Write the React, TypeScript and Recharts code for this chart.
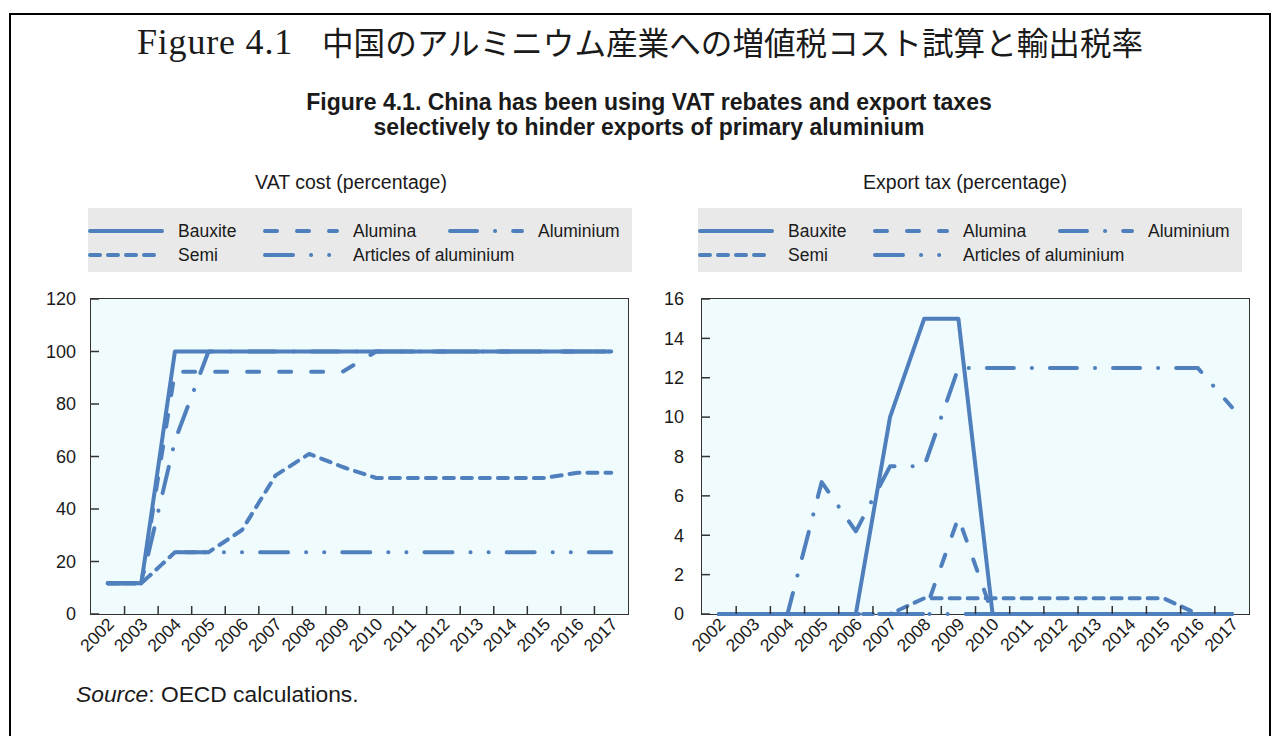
import React from "react";
import { Line, LineChart, XAxis, YAxis } from "recharts";

const years = [2002, 2003, 2004, 2005, 2006, 2007, 2008, 2009, 2010, 2011, 2012, 2013, 2014, 2015, 2016, 2017];
// tick marks sit on the boundaries between years
const yearBreaks = [2002.5, 2003.5, 2004.5, 2005.5, 2006.5, 2007.5, 2008.5, 2009.5, 2010.5, 2011.5, 2012.5, 2013.5, 2014.5, 2015.5, 2016.5];
const xTicks = [...years, ...yearBreaks].sort((a, b) => a - b);

const vatTicks = [0, 20, 40, 60, 80, 100, 120];
const exportTicks = [0, 2, 4, 6, 8, 10, 12, 14, 16];

// VAT cost (percentage)
const vatBauxite = [11.7, 11.7, 100, 100, 100, 100, 100, 100, 100, 100, 100, 100, 100, 100, 100, 100];
const vatAlumina = [11.7, 11.7, 92.3, 92.3, 92.3, 92.3, 92.3, 92.3, 100, 100, 100, 100, 100, 100, 100, 100];
const vatAluminium = [11.7, 11.7, 66, 100, 100, 100, 100, 100, 100, 100, 100, 100, 100, 100, 100, 100];
const vatSemi = [11.7, 11.7, 23.5, 23.5, 32, 52.8, 61, 56, 51.8, 51.8, 51.8, 51.8, 51.8, 51.8, 53.8, 53.8];
const vatArticles = [11.7, 11.7, 23.5, 23.5, 23.5, 23.5, 23.5, 23.5, 23.5, 23.5, 23.5, 23.5, 23.5, 23.5, 23.5, 23.5];

// Export tax (percentage)
const taxBauxite = [0, 0, 0, 0, 0, 10, 15, 15, 0, 0, 0, 0, 0, 0, 0, 0];
const taxAlumina = [0, 0, 0, 0, 0, 0, 0, 4.9, 0, 0, 0, 0, 0, 0, 0, 0];
const taxAluminium = [0, 0, 0, 6.7, 4.2, 7.5, 7.5, 12.5, 12.5, 12.5, 12.5, 12.5, 12.5, 12.5, 12.5, 10.5];
const taxSemi = [0, 0, 0, 0, 0, 0, 0.8, 0.8, 0.8, 0.8, 0.8, 0.8, 0.8, 0.8, 0, 0];
const taxArticles = [0, 0, 0, 0, 0, 0, 0, 0, 0, 0, 0, 0, 0, 0, 0, 0];

const BLUE = "#4f80bd";
const INK = "#1a1a1a";
const FRAME = "#333";
const SANS = "'Liberation Sans', Arial, sans-serif";
const TICK_LEN = 8;

const series = [
  { key: "bauxite", name: "Bauxite", dash: undefined },
  { key: "alumina", name: "Alumina", dash: "12 20" },
  { key: "aluminium", name: "Aluminium", dash: "27 18 0.1 18" },
  { key: "semi", name: "Semi", dash: "10 8" },
  { key: "articles", name: "Articles of aluminium", dash: "28 18 0.1 18 0.1 18" },
];

function buildRows(bauxite: number[], alumina: number[], aluminium: number[], semi: number[], articles: number[]) {
  return years.map((year, i) => ({
    year,
    bauxite: bauxite[i],
    alumina: alumina[i],
    aluminium: aluminium[i],
    semi: semi[i],
    articles: articles[i],
  }));
}

const vatRows = buildRows(vatBauxite, vatAlumina, vatAluminium, vatSemi, vatArticles);
const taxRows = buildRows(taxBauxite, taxAlumina, taxAluminium, taxSemi, taxArticles);

// whole years get a slanted label, half years an inward tick mark
function YearTick(props: any) {
  const { x, y, payload } = props;
  if (!Number.isInteger(payload.value)) {
    return <line x1={x} x2={x} y1={y} y2={y - TICK_LEN} stroke={FRAME} strokeWidth={1.5} />;
  }
  const ax = x + 3;
  const ay = y + 7;
  return (
    <text
      x={ax}
      y={ay}
      dy="0.35em"
      textAnchor="end"
      fontSize={17.5}
      fill={INK}
      transform={`rotate(-45 ${ax} ${ay})`}
    >
      {payload.value}
    </text>
  );
}

function ValueTick(props: any) {
  const { x, y, payload, gap } = props;
  return (
    <g>
      <line x1={x} x2={x + TICK_LEN} y1={y} y2={y} stroke={FRAME} strokeWidth={1.5} />
      <text x={x - gap} y={y} dy="0.35em" textAnchor="end" fontSize={18} fill={INK}>
        {payload.value}
      </text>
    </g>
  );
}

function Legend({ left, top }: { left: number; top: number }) {
  // sample x offset, row
  const slots = [
    { x: 0, row: 0 },
    { x: 175, row: 0 },
    { x: 360, row: 0 },
    { x: 0, row: 1 },
    { x: 175, row: 1 },
  ];
  return (
    <svg
      width={544}
      height={64}
      style={{ position: "absolute", left, top, fontFamily: SANS }}
    >
      <rect x={0} y={0} width={544} height={64} fill="#e9e9e9" />
      {series.map((s, i) => {
        const slot = slots[i];
        const cy = slot.row === 0 ? 23 : 47;
        return (
          <g key={s.key}>
            <line
              x1={slot.x + 2}
              x2={slot.x + 74}
              y1={cy}
              y2={cy}
              stroke={BLUE}
              strokeWidth={4}
              strokeDasharray={s.dash}
              strokeLinecap="round"
            />
            <text x={slot.x + 90} y={cy} dy="0.35em" fontSize={17.5} fill={INK}>
              {s.name}
            </text>
          </g>
        );
      })}
    </svg>
  );
}

type PanelProps = {
  rows: any[];
  yTicks: number[];
  left: number;
  width: number;
  yAxisWidth: number;
  labelGap: number;
  marginRight: number;
};

const CHART_TOP = 289;
const CHART_HEIGHT = 380;
const MARGIN_TOP = 10;
const AXIS_HEIGHT = 55;

function Panel({ rows, yTicks, left, width, yAxisWidth, labelGap, marginRight }: PanelProps) {
  const xDomain = [2001.5, 2017.5];
  const yDomain = [yTicks[0], yTicks[yTicks.length - 1]];
  const plotLeft = left + yAxisWidth;
  const plotRight = left + width - marginRight;
  const plotTop = CHART_TOP + MARGIN_TOP;
  const plotBottom = CHART_TOP + CHART_HEIGHT - AXIS_HEIGHT;
  return (
    <>
      {/* plot panel: pale fill with a dark frame, sits under the chart svg */}
      <div
        style={{
          position: "absolute",
          left: plotLeft - 1,
          top: plotTop - 1,
          width: plotRight - plotLeft + 2,
          height: plotBottom - plotTop + 2,
          background: "#effbfd",
          border: `1.5px solid ${FRAME}`,
          boxSizing: "border-box",
        }}
      />
      <div style={{ position: "absolute", left, top: CHART_TOP, fontFamily: SANS }}>
        <LineChart
          width={width}
          height={CHART_HEIGHT}
          data={rows}
          margin={{ top: MARGIN_TOP, right: marginRight, left: 0, bottom: 0 }}
        >
          <XAxis
            xAxisId="years"
            dataKey="year"
            type="number"
            domain={xDomain}
            ticks={xTicks}
            interval={0}
            height={AXIS_HEIGHT}
            axisLine={false}
            tickLine={false}
            tickSize={0}
            tickMargin={0}
            tick={<YearTick />}
          />
          <YAxis
            type="number"
            domain={yDomain}
            ticks={yTicks}
            interval={0}
            width={yAxisWidth}
            axisLine={false}
            tickLine={false}
            tickSize={0}
            tickMargin={0}
            tick={<ValueTick gap={labelGap - TICK_LEN} />}
          />
          {[...series].reverse().map((s) => (
            <Line
              key={s.key}
              xAxisId="years"
              dataKey={s.key}
              name={s.name}
              type="linear"
              stroke={BLUE}
              strokeWidth={4}
              strokeDasharray={s.dash}
              strokeLinecap="round"
              strokeLinejoin="round"
              dot={false}
              activeDot={false}
              isAnimationActive={false}
            />
          ))}
        </LineChart>
      </div>
    </>
  );
}

export default function App() {
  return (
    <div
      style={{
        position: "absolute",
        left: 0,
        top: 0,
        width: 1281,
        height: 736,
        background: "#fff",
        overflow: "hidden",
        fontFamily: SANS,
        color: INK,
      }}
    >
      <div
        style={{
          position: "absolute",
          left: 9,
          top: 13,
          width: 1262,
          height: 760,
          border: "2px solid #000",
          boxSizing: "border-box",
        }}
      />
      <div
        style={{
          position: "absolute",
          left: 137,
          top: 20,
          fontFamily: "'Liberation Serif', 'DejaVu Serif', serif",
          fontSize: 36,
          letterSpacing: 0.8,
          lineHeight: "44px",
          whiteSpace: "nowrap",
        }}
      >
        Figure 4.1
      </div>
      <div
        style={{
          position: "absolute",
          left: 322,
          top: 19,
          fontFamily: "'Noto Sans CJK JP', sans-serif",
          fontSize: 31.6,
          lineHeight: "44px",
          whiteSpace: "nowrap",
        }}
      >
        中国のアルミニウム産業への増値税コスト試算と輸出税率
      </div>
      <div
        style={{
          position: "absolute",
          left: 0,
          width: 1298,
          top: 90,
          textAlign: "center",
          fontWeight: "bold",
          fontSize: 23,
          lineHeight: "25px",
        }}
      >
        Figure 4.1. China has been using VAT rebates and export taxes
        <br />
        selectively to hinder exports of primary aluminium
      </div>
      <div style={{ position: "absolute", left: 151, width: 400, top: 170, textAlign: "center", fontSize: 19.5, lineHeight: "24px" }}>
        VAT cost (percentage)
      </div>
      <div style={{ position: "absolute", left: 765, width: 400, top: 170, textAlign: "center", fontSize: 19.5, lineHeight: "24px" }}>
        Export tax (percentage)
      </div>

      <Legend left={88} top={208} />
      <Legend left={698} top={208} />

      <Panel rows={vatRows} yTicks={vatTicks} left={30} width={610} yAxisWidth={61} labelGap={23} marginRight={12} />
      <Panel rows={taxRows} yTicks={exportTicks} left={640} width={622} yAxisWidth={62} labelGap={26} marginRight={13} />

      <div style={{ position: "absolute", left: 76, top: 681, fontSize: 22.8, lineHeight: "26px", whiteSpace: "nowrap" }}>
        <i>Source</i>: OECD calculations.
      </div>
    </div>
  );
}
